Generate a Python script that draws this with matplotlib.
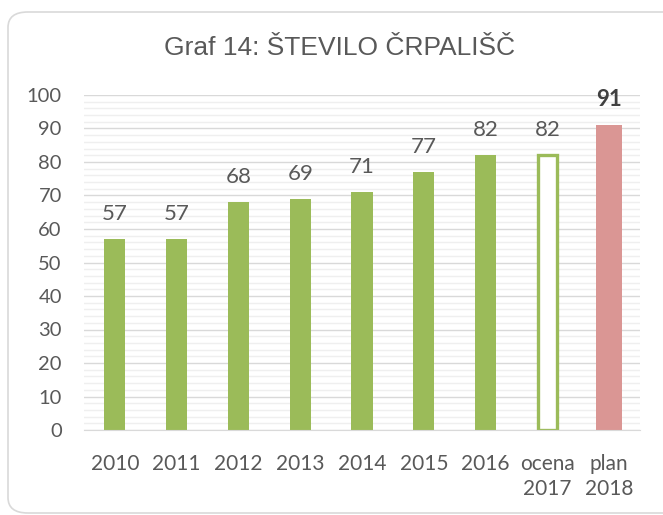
import numpy as np
import matplotlib.pyplot as plt
from matplotlib.patches import FancyBboxPatch

# podatki
categories = ["2010", "2011", "2012", "2013", "2014", "2015", "2016", "ocena\n2017", "plan\n2018"]
values = [57, 57, 68, 69, 71, 77, 82, 82, 91]

green = "#9BBB59"
pink = "#DA9694"
txt = "#595959"

fig = plt.figure(figsize=(6.63, 5.15), dpi=100)

# okvir z zaobljenimi robovi
frame = FancyBboxPatch((8 / 663, 2 / 515), 700 / 663, 501 / 515,
                       boxstyle="round,pad=0,rounding_size=0.03",
                       transform=fig.transFigure, facecolor="none",
                       edgecolor="#d9d9d9", linewidth=1.2, zorder=-1)
fig.patches.append(frame)

ax = fig.add_axes([84 / 663, 85 / 515, 556 / 663, 335 / 515])
ax.set_facecolor("none")

x = np.arange(len(categories))
w = 0.34
for i, v in enumerate(values):
    if i < 7:
        ax.bar(x[i], v, w, color=green, zorder=3)
    elif i == 7:
        ax.bar(x[i], v, w - 0.03, facecolor="white", edgecolor=green, linewidth=2.4, zorder=3)
    else:
        ax.bar(x[i], v, w + 0.08, color=pink, zorder=3)
    ax.text(x[i], v + 4.5, str(v), ha="center", va="bottom", fontsize=16,
            color=txt if i < 8 else "#404040", family="Lato",
            fontweight="bold" if i == 8 else "normal")

ax.set_xlim(-0.5, len(categories) - 0.5)
ax.set_ylim(0, 100)
ax.set_yticks(np.arange(0, 101, 10))
ax.set_yticks(np.arange(0, 101, 2), minor=True)
ax.grid(axis="y", which="major", color="#d9d9d9", linewidth=1, zorder=0)
ax.grid(axis="y", which="minor", color="#efefef", linewidth=1, zorder=0)
ax.set_xticks(x)
ax.set_xticklabels(categories, family="Lato", fontsize=15, color=txt, linespacing=1.35, va="top")
for lab in ax.get_yticklabels():
    lab.set_family("Lato")
ax.tick_params(axis="y", labelsize=14.5, labelcolor=txt, length=0, pad=16, which="both")
ax.tick_params(axis="x", length=0, pad=17)
for s in ["top", "right", "left"]:
    ax.spines[s].set_visible(False)
ax.spines["bottom"].set_color("#d9d9d9")
ax.spines["bottom"].set_zorder(4)

fig.text(340 / 663, 1 - 48 / 515, "Graf 14: ŠTEVILO ČRPALIŠČ", ha="center", va="center",
         fontsize=19, color=txt, family="Liberation Sans")

fig.savefig("out.png", dpi=100)
